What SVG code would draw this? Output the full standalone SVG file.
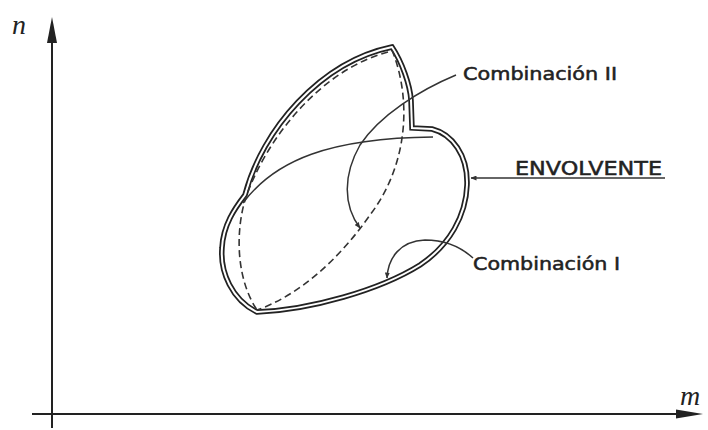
<svg xmlns="http://www.w3.org/2000/svg" width="708" height="430" viewBox="0 0 708 430">
<style>
.axis{stroke:#222;stroke-width:2;fill:none}
.env{fill:none;stroke:#222;stroke-width:5.5;stroke-linejoin:miter}
.envin{fill:none;stroke:#fff;stroke-width:2;stroke-linejoin:miter}
.thin{fill:none;stroke:#333;stroke-width:1.5}
.dash{fill:none;stroke:#333;stroke-width:1.6;stroke-dasharray:7 4}
.lbl{font-family:"DejaVu Sans","Liberation Sans",sans-serif;fill:#222;stroke:#222;stroke-width:0.5}
.ax{font-family:"Liberation Serif",serif;font-style:italic;fill:#222;font-size:28px}
</style>
<defs>
<marker id="sm" markerWidth="6" markerHeight="5" refX="5.5" refY="2.5" orient="auto" markerUnits="userSpaceOnUse">
<path d="M0,0 L6,2.5 L0,5 Z" fill="#333"/>
</marker>
</defs>
<rect width="708" height="430" fill="#fff"/>
<g id="axes">
<line class="axis" x1="52" y1="428" x2="52" y2="22"/>
<path d="M52,17 L47,43 L57,43 Z" fill="#222"/>
<line class="axis" x1="32" y1="414" x2="680" y2="414"/>
<path d="M703,414 L676,409.5 L676,418.5 Z" fill="#222"/>
<text class="ax" x="12" y="34">n</text>
<text class="ax" x="680" y="405">m</text>
</g>
<g id="envolvente">
<path class="env" d="M392,47 C402,62 410,85 411,100 L412,128 L432,129 C452,134 468,155 467,185 C466,215 450,245 420,265 C380,290 310,310 257,312 C232,300 220,272 222,248 C223,225 235,208 245,195 C262,130 320,62 392,47 Z"/>
<path class="envin" d="M392,47 C402,62 410,85 411,100 L412,128 L432,129 C452,134 468,155 467,185 C466,215 450,245 420,265 C380,290 310,310 257,312 C232,300 220,272 222,248 C223,225 235,208 245,195 C262,130 320,62 392,47 Z"/>
</g>
<g id="combinacion-I">
<path class="thin" d="M243,203 C275,160 330,138 433,137"/>
</g>
<g id="combinacion-II">
<path class="dash" d="M388,52 C320,70 265,140 245,200 C235,235 237,280 257,310"/>
<path class="dash" d="M392,50 C412,100 408,165 370,215 C340,258 300,295 257,310"/>
</g>
<g id="connectors">
<path class="thin" d="M456,75 C420,90 380,115 360,145 C343,175 343,205 360,228" marker-end="url(#sm)"/>
<path class="thin" d="M473,258 C462,248 448,240 425,240 C400,241 388,258 387,278" marker-end="url(#sm)"/>
<line class="thin" x1="665" y1="178" x2="471" y2="178" marker-end="url(#sm)"/>
</g>
<g id="labels">
<text class="lbl" x="463" y="80" font-size="17" textLength="154" lengthAdjust="spacingAndGlyphs">Combinación II</text>
<text class="lbl" x="515" y="175" font-size="19" textLength="147" lengthAdjust="spacingAndGlyphs">ENVOLVENTE</text>
<text class="lbl" x="473" y="270" font-size="17" textLength="147" lengthAdjust="spacingAndGlyphs">Combinación I</text>
</g>
</svg>
